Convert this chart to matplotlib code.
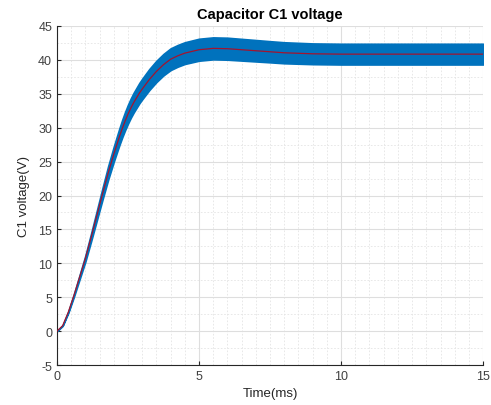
import numpy as np
import matplotlib
matplotlib.use("Agg")
from matplotlib import pyplot as plt
from matplotlib.ticker import MultipleLocator

# time in ms, mean capacitor voltage in V, half-width of the spread band in V
t_ms = [0, 0.2, 0.4, 0.6, 0.8, 1.0, 1.2, 1.4, 1.6, 1.8, 2.0, 2.2, 2.3, 2.4,
        2.5, 2.6, 2.7, 2.8, 2.9, 3.0, 3.25, 3.5, 3.75, 4.0, 4.25, 4.5, 5.0,
        5.5, 6.0, 6.5, 7.0, 7.5, 8.0, 9.0, 10.0, 11.0, 12.0, 13.0, 14.0, 15.0]
v_mean = [0, 0.8, 2.8, 5.3, 8.0, 10.7, 13.8, 17.0, 20.2, 23.3, 26.1, 28.7,
          29.9, 31.0, 32.0, 32.9, 33.7, 34.4, 35.1, 35.7, 37.1, 38.3, 39.3,
          40.1, 40.6, 41.0, 41.5, 41.7, 41.65, 41.5, 41.35, 41.2, 41.05, 40.9,
          40.85, 40.85, 40.85, 40.85, 40.85, 40.85]
v_spread = [0, 0.03, 0.1, 0.2, 0.32, 0.45, 0.58, 0.72, 0.86, 1.0, 1.12, 1.24,
            1.3, 1.35, 1.4, 1.43, 1.46, 1.48, 1.5, 1.52, 1.55, 1.57, 1.58,
            1.6, 1.6, 1.6, 1.62, 1.62, 1.62, 1.6, 1.58, 1.56, 1.55, 1.53, 1.53,
            1.53, 1.53, 1.53, 1.53, 1.53]

plt.rcParams['font.family'] = ['Liberation Sans', 'DejaVu Sans']
plt.rcParams['axes.unicode_minus'] = False

t = np.asarray(t_ms)
v = np.asarray(v_mean)
s = np.asarray(v_spread)

fig = plt.figure(figsize=(4.91, 4.06), dpi=100)
ax = fig.add_axes([0.116, 0.0985, 0.868, 0.835])

ax.fill_between(t, v - s, v + s, color='#0072BD', linewidth=1.2,
                edgecolor='#0072BD', zorder=2)
ax.plot(t, v, color='#A2142F', linewidth=0.9, zorder=3)

ax.set_xlim(0, 15)
ax.set_ylim(-5, 45)
ax.xaxis.set_major_locator(MultipleLocator(5))
ax.xaxis.set_minor_locator(MultipleLocator(0.5))
ax.yaxis.set_major_locator(MultipleLocator(5))
ax.yaxis.set_minor_locator(MultipleLocator(2.5))

ax.grid(which='major', color='#dedede', linewidth=0.8, linestyle='-', zorder=0)
ax.grid(which='minor', color='#e4e4e4', linewidth=0.6, linestyle=(0, (2, 2)), zorder=0)
ax.set_axisbelow(True)

for side in ('top', 'right'):
    ax.spines[side].set_visible(False)
for side in ('left', 'bottom'):
    ax.spines[side].set_color('#262626')
    ax.spines[side].set_linewidth(0.8)

ax.tick_params(which='major', direction='in', length=3, width=0.8,
               color='#262626', labelcolor='#404040', labelsize=9)
ax.tick_params(which='minor', length=0)

ax.set_title('Capacitor C1 voltage', fontsize=10.5, fontweight='bold', pad=6)
ax.set_xlabel('Time(ms)', fontsize=9.5, color='#262626', labelpad=4)
ax.set_ylabel('C1 voltage(V)', fontsize=9.5, color='#262626', labelpad=6)

fig.savefig('out.png', dpi=100, facecolor='white')
